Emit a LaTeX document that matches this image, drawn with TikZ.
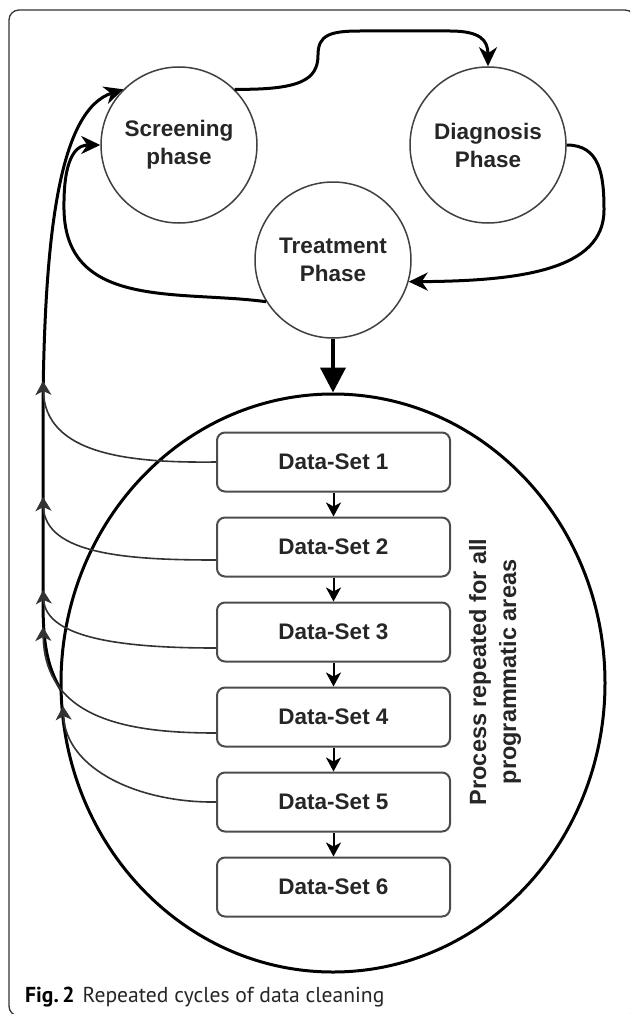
\documentclass[tikz,border=0pt]{standalone}
\usepackage{fontspec}
\setmainfont{Liberation Sans}
\newfontfamily\captionfont{PT Sans}
\usepackage{tikz}
\usetikzlibrary{arrows.meta,shapes.geometric}

\begin{document}
\begin{tikzpicture}[x=1pt,y=-1pt,
	phase_node/.style={circle,draw=black!75,line width=1.5pt,minimum size=156pt,inner sep=0pt,align=center,font=\fontsize{22.5}{28}\selectfont\bfseries,text=black!85},
	set_node/.style={rectangle,rounded corners=8pt,draw=black!70,line width=2pt,minimum width=233pt,minimum height=59pt,inner sep=0pt,font=\fontsize{22.5}{28}\selectfont\bfseries,text=black!85},
	area_node/.style={ellipse,draw,line width=3pt,minimum width=544pt,minimum height=578pt,inner sep=0pt},
	phase_edge/.style={line width=3pt,-{Stealth[length=19pt,width=18pt,inset=6pt]}},
	set_edge/.style={line width=1.6pt,draw=black!80,-{Stealth[length=14pt,width=16pt,inset=4pt]}},
	chain_edge/.style={line width=2pt,-{Stealth[length=14pt,width=15pt,inset=4pt]}}]
	\clip (0,0) rectangle (630,1014);
	\draw[black!80,line width=1.3pt,rounded corners=10pt] (9,10) rectangle (635,1016);

	\node[phase_node] (screen) at (179,145) {Screening\\phase};
	\node[phase_node] (diag) at (488,145) {Diagnosis\\Phase};
	\node[phase_node] (treat) at (333,260) {Treatment\\Phase};
	\node[area_node] (area) at (333,683) {};
	\node[rotate=90,align=center,font=\fontsize{23.5}{30}\selectfont\bfseries,text=black!85] (note) at (495,672) {Process repeated for all\\programmatic areas};
	\foreach \i in {1,...,6}
		\node[set_node] (ds\i) at (333.5,{462+85*(\i-1)}) {Data-Set \i};
	\node[anchor=base west,inner sep=0pt,font=\captionfont\fontsize{21.6}{26}\selectfont,text=black!85] (caption) at (25,1002) {\textbf{\color{black}Fig.\,2}\hspace{8pt}Repeated cycles of data cleaning};

	\foreach \i/\y in {1/381,2/497,3/590,4/627}
		\coordinate (join\i) at (43,\y);
	\coordinate (join5) at (63,706);
	\coordinate (trunk_foot) at (61,690);

	\draw[phase_edge] (screen.45) .. controls (300,90) and (318,80) .. (318,55) .. controls (318,35) and (330,31) .. (360,31) -- (450,31) .. controls (480,31) and (488,40) .. (diag.north);
	\draw[phase_edge] (diag.east) .. controls (600,145) and (604,175) .. (604,210) .. controls (604,270) and (520,281) .. (treat.-16);
	\draw[phase_edge] (treat.212) .. controls (180,290) and (66,310) .. (64,210) .. controls (63,150) and (80,145) .. (screen.west);
	\draw[phase_edge] (trunk_foot) .. controls (46,665) and (43,640) .. (43,600) -- (43,400) .. controls (45,230) and (60,110) .. (screen.135);
	\draw[line width=4pt,-{Triangle[length=25pt,width=25pt]}] (treat.south) -- (area.north);

	\draw[set_edge] (ds1.west) .. controls (130,463) and (45,455) .. (join1);
	\draw[set_edge] ([yshift=-13pt]ds2.west) .. controls (130,560) and (45,555) .. (join2);
	\draw[set_edge] ([yshift=-16pt]ds3.west) .. controls (130,648) and (46,640) .. (join3);
	\draw[set_edge] ([yshift=-16pt]ds4.west) .. controls (130,733) and (45,720) .. (join4);
	\draw[set_edge] (ds5.west) .. controls (140,803) and (66,770) .. (join5);
	\foreach \i [count=\j from 2] in {1,...,5}
		\draw[chain_edge] (ds\i) -- (ds\j);
\end{tikzpicture}
\end{document}
